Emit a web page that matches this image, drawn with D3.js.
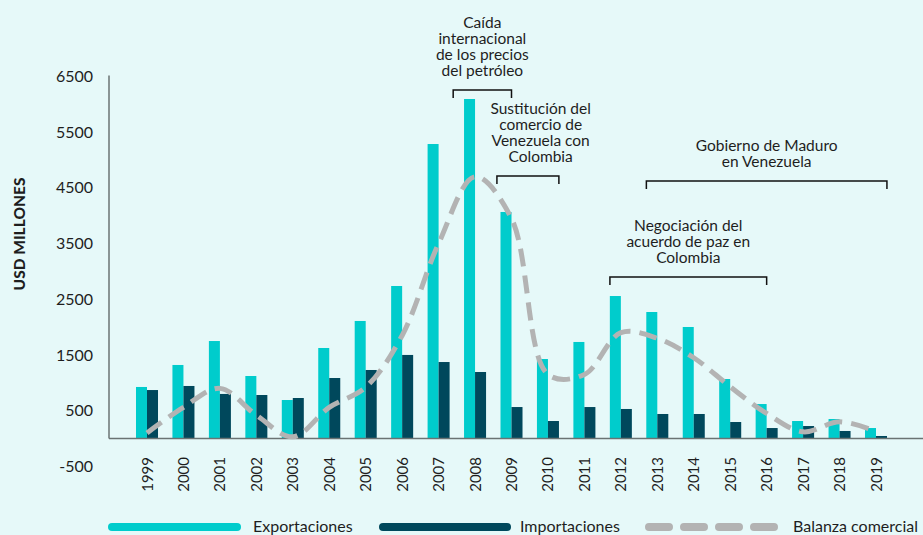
<!DOCTYPE html>
<html>
<head>
<meta charset="utf-8">
<script src="https://cdn.jsdelivr.net/npm/d3@7"></script>
<style>
  html, body { margin: 0; padding: 0; background: #e6f9f9; }
  svg { display: block; font-family: Lato, "Noto Sans", sans-serif; }
  .txt { fill: #1e1e1e; }
</style>
</head>
<body>
<div id="chart"></div>
<script>
/* Comercio Colombia - Venezuela */

var years = ["1999","2000","2001","2002","2003","2004","2005","2006","2007","2008","2009",
  "2010","2011","2012","2013","2014","2015","2016","2017","2018","2019"];
var exportaciones = [925,1320,1750,1122,691,1625,2110,2738,5287,6095,4067,
  1427,1733,2558,2271,2002,1068,619,314,350,188];
var importaciones = [870,943,800,781,727,1086,1230,1500,1373,1194,565,
  314,565,530,440,440,296,188,224,135,45];
var balanza = [100,560,900,420,30,560,920,1850,3500,4700,3950,
  1150,1150,1900,1800,1450,930,450,120,300,130];
var yTicks = [-500,500,1500,2500,3500,4500,5500,6500];

// annotation brackets, in (fractional) year units
var notas = [
  {lines:["Caída","internacional","de los precios","del petróleo"], from:2007.4, to:2009.0, mid:2008.2, y:90},
  {lines:["Sustitución del","comercio de","Venezuela con","Colombia"], from:2008.6, to:2010.3, mid:2009.8, y:176},
  {lines:["Gobierno de Maduro","en Venezuela"], from:2012.7, to:2019.3, mid:2016.0, y:181},
  {lines:["Negociación del","acuerdo de paz en","Colombia"], from:2011.7, to:2016.0, mid:2013.85, y:277}
];

var W = 923, H = 535;
var axisX = 109;

var svg = d3.select("#chart").append("svg")
  .attr("width", W).attr("height", H);

var step = 36.45;
var x0 = d3.scaleBand().domain(years)
  .range([147 - step/2, 876 + step/2])
  .paddingInner(0.396).paddingOuter(0.198);
var x1 = d3.scaleBand().domain(["exp","imp"]).range([0, x0.bandwidth()]);
var xYear = d3.scaleLinear().domain([1999, 2019])
  .range([x0("1999") + x0.bandwidth()/2, x0("2019") + x0.bandwidth()/2]);

var y = d3.scaleLinear().domain([-500, 6500]).range([466.35, 76.45]);

// y axis labels
var yAxis = svg.append("g")
  .attr("transform", "translate(" + axisX + ",0)")
  .call(d3.axisLeft(y).tickValues(yTicks).tickSize(0).tickPadding(16)
    .tickFormat(function(d){ return String(d); }));
yAxis.select(".domain").remove();
yAxis.selectAll("text")
  .attr("class", "txt")
  .style("font-size", "16px")
  .style("font-family", "Lato, sans-serif");

svg.append("text")
  .attr("class", "txt")
  .attr("transform", "translate(25," + 234 + ")rotate(-90)")
  .attr("text-anchor", "middle")
  .style("font-size", "15.5px")
  .style("font-weight", "900")
  .text("USD MILLONES");

// bars
var groups = svg.selectAll(".grp")
  .data(years).enter()
  .append("g")
  .attr("transform", function(d){ return "translate(" + x0(d) + ",0)"; });

groups.append("rect")
  .attr("x", x1("exp"))
  .attr("width", x1.bandwidth())
  .attr("y", function(d,i){ return y(exportaciones[i]); })
  .attr("height", function(d,i){ return y(0) - y(exportaciones[i]); })
  .attr("fill", "#00cccc");

groups.append("rect")
  .attr("x", x1("imp"))
  .attr("width", x1.bandwidth())
  .attr("y", function(d,i){ return y(importaciones[i]); })
  .attr("height", function(d,i){ return y(0) - y(importaciones[i]); })
  .attr("fill", "#00485c");

// axis lines
svg.append("line")
  .attr("x1", axisX).attr("x2", axisX)
  .attr("y1", y(6500) - 1).attr("y2", y(0))
  .attr("stroke", "#6a7373").attr("stroke-width", 1.5);
svg.append("line")
  .attr("x1", axisX).attr("x2", W)
  .attr("y1", y(0)).attr("y2", y(0))
  .attr("stroke", "#6a7373").attr("stroke-width", 1.5);

// balance line
var line = d3.line()
  .x(function(d,i){ return x0(years[i]) + x0.bandwidth()/2; })
  .y(function(d){ return y(d); })
  .curve(d3.curveCatmullRom.alpha(0.5));

svg.append("path")
  .datum(balanza)
  .attr("d", line)
  .attr("fill", "none")
  .attr("stroke", "#b3b3b3")
  .attr("stroke-width", 5)
  .attr("stroke-dasharray", "18,9");

// year labels
svg.selectAll(".yr")
  .data(years).enter()
  .append("text")
  .attr("class", "txt")
  .attr("transform", function(d){
    return "translate(" + (x0(d) + x0.bandwidth()/2 + 5.5) + ",457)rotate(-90)"; })
  .attr("text-anchor", "end")
  .style("font-size", "15px")
  .text(function(d){ return d; });

// annotations
notas.forEach(function(n){
  var a = xYear(n.from), b = xYear(n.to);
  svg.append("path")
    .attr("d", "M" + a + "," + (n.y + 8) + "V" + n.y + "H" + b + "V" + (n.y + 8))
    .attr("fill", "none")
    .attr("stroke", "#111")
    .attr("stroke-width", 1.5);
  var cx = xYear(n.mid);
  var last = n.y - 14;
  n.lines.forEach(function(t, k){
    svg.append("text")
      .attr("class", "txt")
      .attr("x", cx)
      .attr("y", last - (n.lines.length - 1 - k) * 16)
      .attr("text-anchor", "middle")
      .style("font-size", "15.5px")
      .text(t);
  });
});

// legend
var lg = svg.append("g");
lg.append("rect").attr("x", 108).attr("y", 523).attr("width", 133).attr("height", 8)
  .attr("rx", 4).attr("fill", "#00cccc");
lg.append("text").attr("class", "txt").attr("x", 253).attr("y", 532)
  .style("font-size", "16px").text("Exportaciones");
lg.append("rect").attr("x", 379).attr("y", 523).attr("width", 132).attr("height", 8)
  .attr("rx", 4).attr("fill", "#00485c");
lg.append("text").attr("class", "txt").attr("x", 520).attr("y", 532)
  .style("font-size", "16px").text("Importaciones");
lg.append("line").attr("x1", 649).attr("x2", 774).attr("y1", 527).attr("y2", 527)
  .attr("stroke", "#b3b3b3").attr("stroke-width", 8)
  .attr("stroke-linecap", "round").attr("stroke-dasharray", "20,15");
lg.append("text").attr("class", "txt").attr("x", 793).attr("y", 532)
  .style("font-size", "16px").text("Balanza comercial");
</script>
</body>
</html>
